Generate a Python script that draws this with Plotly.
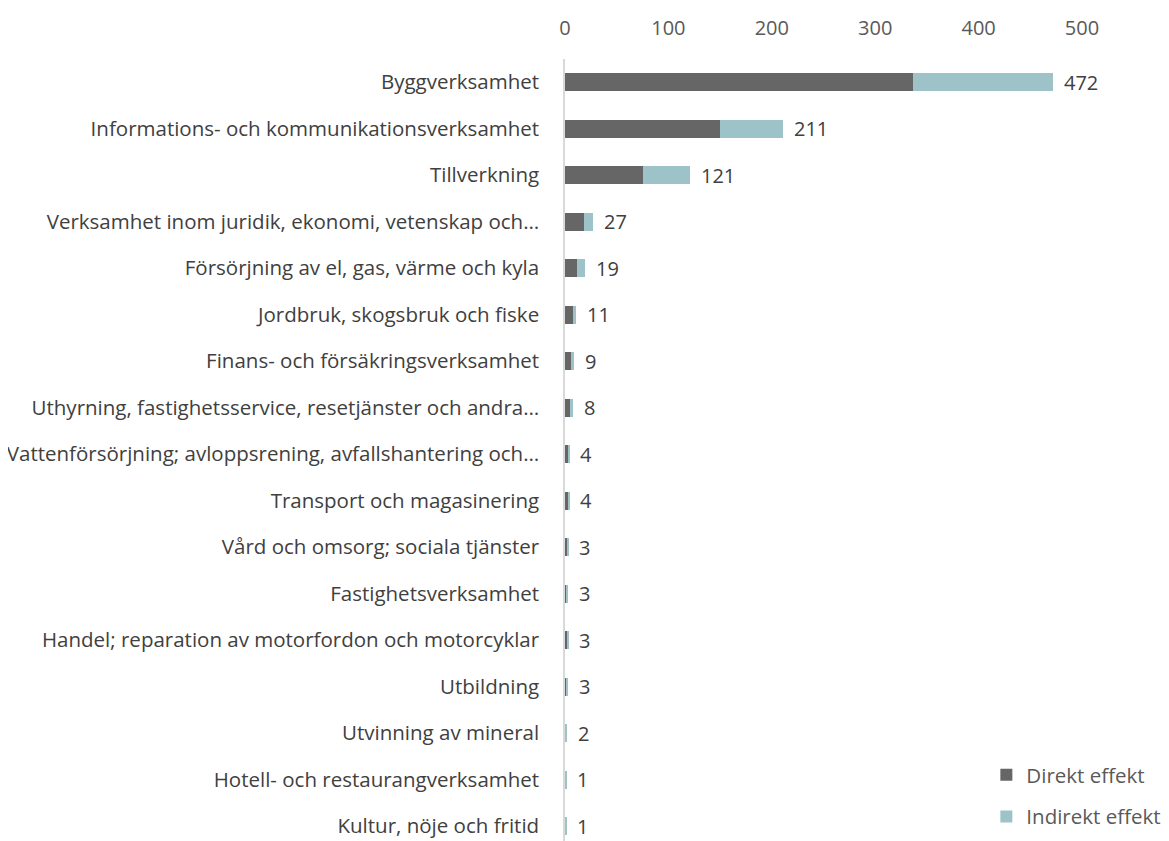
import plotly.graph_objects as go

categories = [
    "Byggverksamhet",
    "Informations- och kommunikationsverksamhet",
    "Tillverkning",
    "Verksamhet inom juridik, ekonomi, vetenskap och…",
    "Försörjning av el, gas, värme och kyla",
    "Jordbruk, skogsbruk och fiske",
    "Finans- och försäkringsverksamhet",
    "Uthyrning, fastighetsservice, resetjänster och andra…",
    "Vattenförsörjning; avloppsrening, avfallshantering och…",
    "Transport och magasinering",
    "Vård och omsorg; sociala tjänster",
    "Fastighetsverksamhet",
    "Handel; reparation av motorfordon och motorcyklar",
    "Utbildning",
    "Utvinning av mineral",
    "Hotell- och restaurangverksamhet",
    "Kultur, nöje och fritid",
]
direkt = [337, 150, 75, 18, 12, 8, 6, 5, 3, 3, 2, 1.5, 2, 1, 0.5, 0.3, 0.3]
indirekt = [135, 61, 46, 9, 7, 3, 3, 3, 1, 1, 1, 1.5, 1, 2, 1.5, 0.7, 0.7]
totals = [472, 211, 121, 27, 19, 11, 9, 8, 4, 4, 3, 3, 3, 3, 2, 1, 1]

FONT = "Open Sans"
fig = go.Figure()
fig.add_trace(go.Bar(y=categories, x=direkt, orientation="h", name="Direkt effekt",
                     legendgroup="d", marker=dict(color="#666666", line=dict(width=0))))
fig.add_trace(go.Bar(y=categories, x=indirekt, orientation="h", name="Indirekt effekt",
                     legendgroup="i", marker=dict(color="#9dc3c9", line=dict(width=0))))

for cat, tot in zip(categories, totals):
    fig.add_annotation(x=tot, y=cat, text=str(tot), xanchor="left", xshift=9,
                       showarrow=False, font=dict(family=FONT, size=20, color="#404040"))

# page body has an 8px margin, so the figure is sized to fill the window
fig.update_layout(
    width=1161, height=833,
    barmode="stack", bargap=0.61,
    plot_bgcolor="white", paper_bgcolor="white",
    margin=dict(l=557, r=87, t=51, b=0),
    font=dict(family=FONT, size=20.5, color="#404040"),
    xaxis=dict(side="top", range=[0, 500], dtick=100, showgrid=False, zeroline=False,
               showline=False, tickfont=dict(size=20, color="#595959"), ticks="",
               automargin=False, ticklabelstandoff=19),
    yaxis=dict(categoryorder="array", categoryarray=categories[::-1],
               range=[-0.32, 16.5], showgrid=False, zeroline=False,
               showline=True, linecolor="#d9d9d9", linewidth=1.5,
               ticks="", ticklabelstandoff=20, automargin=False,
               tickfont=dict(size=20.5, color="#404040")),
    legend=dict(x=0.815, xanchor="left", y=0.11, yanchor="top", traceorder="grouped",
                font=dict(size=20.5, color="#595959"), tracegroupgap=12,
                itemwidth=30, bgcolor="rgba(0,0,0,0)"),
)
fig.write_html("out.html")
